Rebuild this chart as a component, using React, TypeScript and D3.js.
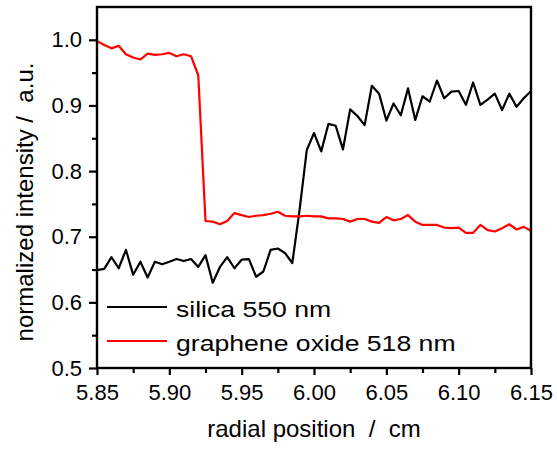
import React, { useRef, useEffect } from "react";
import * as d3 from "d3";

// radial positions (cm)
const positions = [
  5.85, 5.855, 5.86, 5.865, 5.87, 5.875, 5.88, 5.885, 5.89, 5.895,
  5.9, 5.905, 5.91, 5.915, 5.92, 5.925, 5.93, 5.935, 5.94, 5.945,
  5.95, 5.955, 5.96, 5.965, 5.97, 5.975, 5.98, 5.985, 5.99, 5.995,
  6.0, 6.005, 6.01, 6.015, 6.02, 6.025, 6.03, 6.035, 6.04, 6.045,
  6.05, 6.055, 6.06, 6.065, 6.07, 6.075, 6.08, 6.085, 6.09, 6.095,
  6.1, 6.105, 6.11, 6.115, 6.12, 6.125, 6.13, 6.135, 6.14, 6.145, 6.15,
];

// silica 550 nm
const silica = [
  0.649, 0.651, 0.669, 0.652, 0.68, 0.642, 0.662, 0.638, 0.662, 0.658,
  0.662, 0.666, 0.663, 0.666, 0.654, 0.672, 0.63, 0.654, 0.669, 0.652,
  0.665, 0.666, 0.639, 0.647, 0.68, 0.682, 0.675, 0.66, 0.74, 0.832,
  0.858, 0.83, 0.872, 0.869, 0.833, 0.894, 0.884, 0.87, 0.93, 0.918,
  0.877, 0.903, 0.885, 0.926, 0.878, 0.914, 0.906, 0.938, 0.911, 0.921,
  0.922, 0.901, 0.935, 0.901, 0.909, 0.918, 0.893, 0.918, 0.898, 0.911, 0.922,
];

// graphene oxide 518 nm
const grapheneOxide = [
  0.998, 0.992, 0.987, 0.991, 0.978, 0.973, 0.97, 0.979, 0.977, 0.978,
  0.98, 0.975, 0.978, 0.975, 0.946, 0.724, 0.723, 0.719, 0.724, 0.736,
  0.733, 0.73, 0.732, 0.733, 0.735, 0.738, 0.732, 0.731, 0.731, 0.732,
  0.731, 0.731, 0.728, 0.728, 0.727, 0.723, 0.727, 0.727, 0.723, 0.721,
  0.73, 0.725, 0.727, 0.733, 0.723, 0.718, 0.718, 0.718, 0.714, 0.713,
  0.714, 0.706, 0.706, 0.718, 0.71, 0.708, 0.713, 0.719, 0.711, 0.715, 0.709,
];

const xTicks = [5.85, 5.9, 5.95, 6.0, 6.05, 6.1, 6.15];
const xMinorTicks = [5.875, 5.925, 5.975, 6.025, 6.075, 6.125];
const yTicks = [0.5, 0.6, 0.7, 0.8, 0.9, 1.0];
const yMinorTicks = [0.55, 0.65, 0.75, 0.85, 0.95];

const series = [
  { name: "silica 550 nm", values: silica, color: "#000000" },
  { name: "graphene oxide 518 nm", values: grapheneOxide, color: "#ff0000" },
];

const FONT = "'Liberation Sans', Arial, sans-serif";

const App = () => {
  const svgRef = useRef(null);

  useEffect(() => {
    const svg = d3.select(svgRef.current);
    svg.selectAll("*").remove();

    const width = 557;
    const height = 450;
    const left = 97;
    const right = 531;
    const top = 7;
    const bottom = 368;

    const x = d3.scaleLinear().domain([5.85, 6.15]).range([left, right]);
    const y = d3.scaleLinear().domain([0.5, 1.05]).range([bottom, top]);

    svg.attr("width", width).attr("height", height);
    svg.append("rect").attr("width", width).attr("height", height).attr("fill", "#fff");

    // data lines
    const line = d3
      .line<number>()
      .x((d, i) => x(positions[i]))
      .y((d) => y(d));

    const plot = svg.append("g");
    series.forEach((s) => {
      plot
        .append("path")
        .datum(s.values)
        .attr("d", line)
        .attr("fill", "none")
        .attr("stroke", s.color)
        .attr("stroke-width", 2.2)
        .attr("stroke-linejoin", "round");
    });

    // minor ticks
    const xMinor = d3.axisBottom(x).tickValues(xMinorTicks).tickSize(5).tickFormat(() => "");
    const yMinor = d3.axisLeft(y).tickValues(yMinorTicks).tickSize(5).tickFormat(() => "");

    const gxm = svg.append("g").attr("transform", `translate(0,${bottom})`).call(xMinor);
    const gym = svg.append("g").attr("transform", `translate(${left},0)`).call(yMinor);
    [gxm, gym].forEach((g) => {
      g.select(".domain").remove();
      g.selectAll("line").attr("stroke", "#000").attr("stroke-width", 2.2);
    });

    // major axes
    const xAxis = d3.axisBottom(x).tickValues(xTicks).tickSize(7).tickPadding(9).tickFormat(d3.format(".2f"));
    const yAxis = d3.axisLeft(y).tickValues(yTicks).tickSize(8).tickPadding(7).tickFormat(d3.format(".1f"));

    const gx = svg.append("g").attr("transform", `translate(0,${bottom})`).call(xAxis);
    const gy = svg.append("g").attr("transform", `translate(${left},0)`).call(yAxis);
    [gx, gy].forEach((g) => {
      g.select(".domain").remove();
      g.selectAll("line").attr("stroke", "#000").attr("stroke-width", 2.2);
      g.selectAll("text").attr("font-family", FONT).attr("font-size", 22).attr("fill", "#000");
    });

    // frame
    svg
      .append("rect")
      .attr("x", left)
      .attr("y", top)
      .attr("width", right - left)
      .attr("height", bottom - top)
      .attr("fill", "none")
      .attr("stroke", "#000")
      .attr("stroke-width", 2.4);

    // axis titles
    svg
      .append("text")
      .attr("x", (left + right) / 2)
      .attr("y", 437)
      .attr("text-anchor", "middle")
      .attr("font-family", FONT)
      .attr("font-size", 24)
      .style("white-space", "pre")
      .text("radial position  /  cm");

    svg
      .append("text")
      .attr("transform", `translate(33,202) rotate(-90)`)
      .attr("text-anchor", "middle")
      .attr("font-family", FONT)
      .attr("font-size", 24)
      .style("white-space", "pre")
      .text("normalized intensity /  a.u.");

    // legend
    const legend = svg.append("g");
    series.forEach((s, i) => {
      const ly = 307 + i * 34;
      legend
        .append("line")
        .attr("x1", 107)
        .attr("x2", 167)
        .attr("y1", ly)
        .attr("y2", ly)
        .attr("stroke", s.color)
        .attr("stroke-width", 2.2);
      legend
        .append("text")
        .attr("transform", `translate(176,${ly + 10}) scale(1.21,1)`)
        .attr("font-family", FONT)
        .attr("font-size", 22)
        .text(s.name);
    });
  }, []);

  return <svg ref={svgRef} style={{ position: "absolute", left: 0, top: 0 }} />;
};

export default App;
